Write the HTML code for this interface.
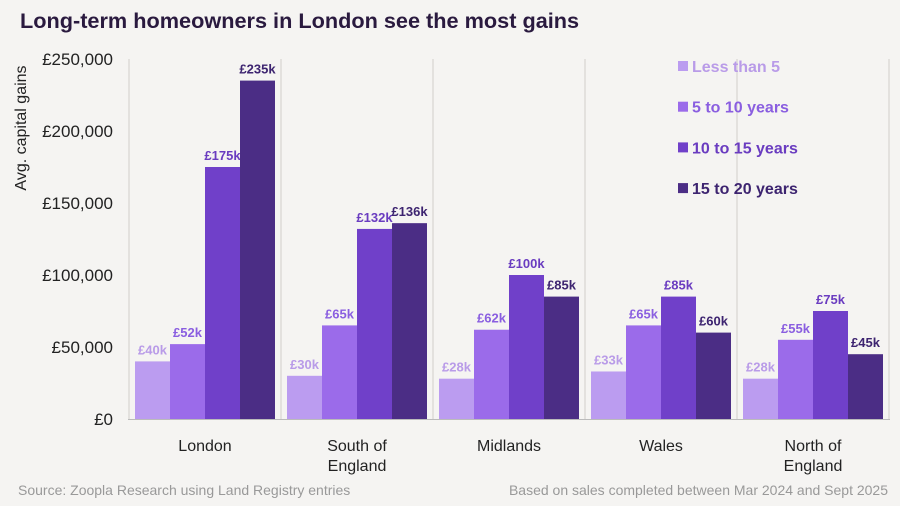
<!DOCTYPE html>
<html><head><meta charset="utf-8"><style>
html,body{margin:0;padding:0;background:#f5f4f2;}
svg{display:block;font-family:"Liberation Sans",sans-serif;}
</style></head><body>
<svg id="c" width="900" height="506" viewBox="0 0 900 506">
<rect width="900" height="506" fill="#f5f4f2"/>
<text x="20" y="28" font-size="21.7" font-weight="bold" fill="#2a1a3f">Long-term homeowners in London see the most gains</text>
<text transform="translate(26,128) rotate(-90)" text-anchor="middle" font-size="16" fill="#222">Avg. capital gains</text>
<text x="18" y="495" font-size="14" fill="#999">Source: Zoopla Research using Land Registry entries</text>
<text x="888" y="495" text-anchor="end" font-size="14" fill="#999">Based on sales completed between Mar 2024 and Sept 2025</text>
<g id="grid"></g><g id="bars"></g><g id="axes"></g><g id="legend"></g>
</svg>
<script>
const categories=["London","South of|England","Midlands","Wales","North of|England"];
const seriesNames=["Less than 5","5 to 10 years","10 to 15 years","15 to 20 years"];
const lessThan5=[40,30,28,33,28];
const y5to10=[52,65,62,65,55];
const y10to15=[175,132,100,85,75];
const y15to20=[235,136,85,60,45];
const yTicks=[0,50000,100000,150000,200000,250000];
const yTickLabels=["£0","£50,000","£100,000","£150,000","£200,000","£250,000"];
const series=[lessThan5,y5to10,y10to15,y15to20];
const colors=["#bb9cf0","#9b6bea","#7040c9","#4b2d85"];
const labelColors=["#b99be8","#8a5ee0","#6a3cc0","#3d2470"];
const NS="http://www.w3.org/2000/svg";
const x0=129,gw=152,y0=419,yTop=59,ymax=250000;
function yS(v){return y0-(v/ymax)*(y0-yTop);}
function gX(i){return x0+i*gw;}
function mk(tag,attrs,parent,text){const e=document.createElementNS(NS,tag);for(const k in attrs)e.setAttribute(k,attrs[k]);if(text!==undefined)e.textContent=text;parent.appendChild(e);return e;}
const grid=document.getElementById('grid'),bars=document.getElementById('bars'),axes=document.getElementById('axes'),leg=document.getElementById('legend');
for(let i=0;i<=categories.length;i++){
 const l=mk('line',{x1:gX(i),x2:gX(i),y1:yTop,y2:y0,stroke:"#e3e1de","stroke-width":2},grid);
 
 
}
yTicks.forEach((t,i)=>{
 const tx=mk('text',{x:113,y:yS(t)+6,"text-anchor":"end","font-size":17,fill:"#222"},axes,yTickLabels[i]);
 
 
});
const ax=mk('line',{x1:128,x2:890,y1:y0+0.5,y2:y0+0.5,stroke:"#bbb","stroke-width":1},axes);


const bw=35;
categories.forEach((c,i)=>{
 series.forEach((s,j)=>{
  const x=gX(i)+6+j*bw, y=yS(s[i]*1000);
  const r=mk('rect',{x:x,y:y,width:bw,height:y0-y,fill:colors[j]},bars);
  
  
  const t=mk('text',{x:x+bw/2,y:y-7,"text-anchor":"middle","font-size":13,"font-weight":"bold",fill:labelColors[j]},bars,"£"+s[i]+"k");
  
  
 });
 const parts=c.split("|");
 parts.forEach((p,k)=>{
  const t=mk('text',{x:gX(i)+gw/2,y:451+k*20,"text-anchor":"middle","font-size":16,fill:"#222"},axes,p);
  
  
 });
});
seriesNames.forEach((n,j)=>{
 const y=66+j*40.7;
 const r=mk('rect',{x:678,y:y-5,width:10,height:10,fill:colors[j]},leg);
 
 
 const t=mk('text',{x:692,y:y+6,"font-size":16,"font-weight":"bold",fill:labelColors[j]},leg,n);
 
 
});
</script>
</body></html>
